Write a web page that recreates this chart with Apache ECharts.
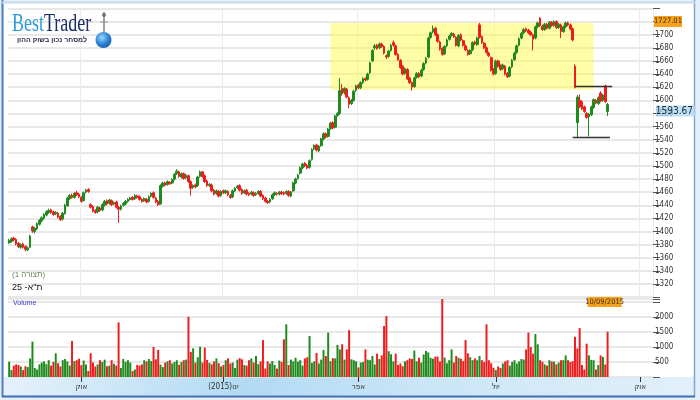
<!DOCTYPE html>
<html><head><meta charset="utf-8">
<script src="https://cdn.jsdelivr.net/npm/echarts@6/dist/echarts.min.js"></script>
<style>html,body{margin:0;padding:0;background:#fff}#c{width:700px;height:400px}</style>
</head><body><div id="c"></div>
<script>
// ---------- DATA ----------
const opens = [
1383,1385,1390,1388,1382,1376,1381,1377,1372,1376,
1407,1400,1404,1411,1416,1420,1425,1429,1433,1430,
1427,1428,1423,1419,1427,1439,1450,1455,1452,1459,
1457,1452,1447,1460,1464,1441,1438,1432,1430,1436,
1433,1440,1447,1443,1447,1442,1445,1437,1434,1440,
1442,1446,1449,1452,1450,1454,1453,1449,1447,1449,
1446,1454,1459,1451,1446,1442,1469,1474,1472,1475,
1474,1480,1488,1491,1483,1488,1482,1485,1476,1467,
1471,1470,1484,1491,1485,1477,1470,1471,1463,1458,
1461,1455,1462,1459,1461,1455,1453,1462,1467,1470,
1464,1459,1463,1458,1457,1459,1456,1458,1461,1455,
1451,1446,1445,1450,1456,1458,1457,1460,1459,1458,
1461,1454,1462,1474,1481,1489,1497,1504,1501,1498,
1510,1526,1532,1523,1531,1541,1549,1545,1557,1566,
1559,1577,1580,1618,1612,1617,1604,1595,1600,1615,
1623,1619,1627,1633,1632,1642,1660,1680,1684,1680,
1686,1682,1668,1667,1676,1688,1683,1670,1661,1652,
1641,1647,1634,1627,1621,1635,1641,1637,1647,1657,
1666,1696,1704,1710,1700,1689,1679,1671,1683,1693,
1699,1701,1696,1683,1700,1691,1683,1676,1671,1677,
1689,1685,1715,1697,1687,1680,1672,1665,1647,1641,
1660,1653,1648,1652,1641,1637,1651,1662,1673,1684,
1695,1703,1709,1707,1704,1700,1695,1712,1725,1713,
1708,1716,1710,1719,1714,1720,1711,1715,1705,1712,
1718,1715,1709,1652,1566,1600,1598,1590,1580,1575,
1578,1589,1600,1595,1611,1600,1622,1583];
const closes = [
1386,1389,1387,1381,1377,1380,1376,1373,1375,1393,
1401,1405,1412,1417,1421,1426,1430,1432,1429,1426,
1429,1422,1418,1428,1440,1451,1455,1452,1458,1456,
1453,1446,1459,1463,1461,1437,1431,1429,1437,1432,
1441,1446,1442,1448,1441,1444,1437,1434,1439,1443,
1446,1449,1451,1449,1455,1452,1449,1446,1450,1445,
1453,1458,1452,1445,1441,1470,1474,1471,1476,1473,
1479,1487,1492,1484,1488,1481,1486,1476,1466,1470,
1468,1483,1491,1484,1476,1470,1472,1462,1457,1462,
1454,1461,1459,1462,1456,1452,1462,1466,1469,1463,
1458,1462,1457,1456,1460,1455,1458,1461,1454,1450,
1446,1444,1449,1456,1459,1457,1460,1458,1457,1461,
1455,1460,1474,1480,1486,1497,1503,1500,1497,1508,
1525,1531,1524,1530,1541,1549,1544,1556,1565,1558,
1576,1580,1615,1610,1618,1605,1594,1600,1614,1622,
1619,1627,1633,1631,1640,1657,1676,1683,1679,1686,
1682,1672,1666,1675,1684,1684,1670,1662,1650,1640,
1648,1633,1627,1620,1634,1641,1636,1646,1656,1664,
1695,1703,1709,1700,1690,1678,1670,1682,1692,1698,
1702,1697,1684,1699,1692,1684,1677,1670,1676,1688,
1686,1695,1696,1688,1680,1673,1668,1646,1640,1660,
1652,1647,1654,1640,1636,1650,1661,1672,1683,1694,
1702,1708,1706,1703,1700,1693,1712,1718,1714,1708,
1716,1710,1719,1714,1720,1711,1716,1705,1712,1718,
1715,1709,1692,1620,1605,1590,1587,1583,1574,1579,
1590,1601,1596,1604,1599,1608,1598,1593.67];
const lows = [
1381,1383,1385,1379,1375,1374,1374,1370,1370,1375,
1398,1397,1402,1409,1414,1418,1423,1427,1427,1424,
1425,1420,1416,1417,1426,1438,1448,1450,1450,1454,
1451,1444,1446,1458,1459,1435,1429,1427,1428,1430,
1431,1438,1440,1441,1439,1440,1435,1413,1432,1438,
1440,1444,1447,1447,1448,1450,1447,1444,1445,1443,
1444,1452,1450,1443,1439,1441,1467,1469,1470,1471,
1472,1478,1486,1482,1481,1479,1480,1474,1455,1465,
1466,1468,1482,1482,1474,1468,1468,1460,1455,1456,
1452,1453,1457,1457,1454,1450,1451,1460,1465,1461,
1456,1457,1455,1454,1455,1453,1454,1456,1452,1448,
1444,1442,1443,1448,1454,1455,1455,1456,1455,1456,
1453,1452,1460,1472,1479,1487,1495,1498,1495,1496,
1508,1524,1522,1521,1529,1539,1542,1543,1555,1556,
1557,1575,1578,1607,1609,1603,1588,1593,1598,1613,
1617,1617,1625,1629,1630,1640,1658,1677,1677,1678,
1680,1670,1663,1665,1674,1682,1668,1660,1648,1638,
1639,1631,1625,1615,1619,1633,1634,1635,1645,1655,
1664,1694,1702,1698,1688,1676,1668,1669,1681,1691,
1697,1695,1682,1681,1690,1682,1675,1668,1669,1675,
1684,1683,1694,1686,1678,1671,1666,1644,1638,1639,
1650,1645,1646,1638,1634,1635,1649,1660,1671,1682,
1693,1701,1704,1701,1698,1676,1693,1710,1712,1706,
1706,1708,1708,1712,1712,1709,1709,1695,1703,1710,
1713,1707,1690,1618,1544,1588,1585,1581,1572,1545,
1576,1587,1594,1593,1597,1598,1596,1576];
const highs = [
1389,1391,1392,1390,1384,1382,1383,1379,1377,1395,
1409,1407,1414,1419,1423,1428,1432,1435,1435,1432,
1431,1430,1425,1430,1442,1453,1457,1458,1460,1462,
1459,1454,1461,1465,1466,1443,1440,1434,1439,1438,
1443,1448,1449,1450,1449,1446,1447,1439,1441,1445,
1448,1451,1453,1454,1457,1456,1455,1451,1452,1451,
1455,1460,1461,1453,1448,1472,1476,1476,1478,1477,
1481,1489,1495,1493,1490,1490,1488,1487,1478,1472,
1473,1485,1493,1492,1487,1479,1474,1473,1465,1464,
1463,1463,1464,1464,1463,1457,1464,1468,1471,1472,
1466,1464,1465,1460,1462,1461,1460,1463,1463,1457,
1453,1448,1451,1458,1461,1460,1462,1462,1461,1463,
1463,1462,1476,1482,1488,1499,1505,1506,1503,1510,
1527,1533,1534,1532,1543,1551,1551,1558,1567,1568,
1578,1582,1634,1625,1620,1619,1606,1602,1616,1624,
1625,1629,1635,1635,1642,1659,1678,1686,1686,1688,
1688,1684,1670,1677,1686,1691,1685,1672,1663,1654,
1650,1649,1636,1629,1636,1643,1643,1648,1658,1666,
1697,1705,1714,1712,1702,1691,1681,1684,1694,1700,
1704,1703,1698,1701,1702,1693,1685,1678,1678,1690,
1691,1697,1718,1699,1689,1682,1674,1667,1649,1662,
1662,1655,1656,1654,1643,1652,1663,1674,1685,1696,
1704,1710,1711,1709,1706,1702,1714,1720,1727.01,1715,
1718,1718,1721,1721,1722,1722,1718,1717,1714,1720,
1720,1717,1711,1655,1608,1609,1600,1592,1582,1581,
1592,1603,1602,1606,1614,1610,1624,1596];
const volumes = [
510,230,380,420,400,350,230,360,330,620,
1180,300,250,420,480,520,430,560,380,500,
790,460,350,560,600,520,380,1200,530,560,
610,400,550,420,200,790,480,350,420,560,
500,580,360,380,560,440,380,1820,300,600,
500,560,480,200,250,400,380,420,560,520,
600,530,1000,590,900,410,330,480,520,560,
450,500,560,410,500,560,580,2010,840,955,
480,660,1010,480,980,570,470,420,520,620,
460,350,400,560,620,450,480,300,580,630,
590,400,380,560,620,480,700,430,520,1230,
280,520,450,530,400,280,550,500,1255,1755,
400,580,520,640,510,560,380,620,660,1365,
470,520,800,450,580,900,700,1480,520,630,
620,1070,920,1090,580,920,1565,590,560,520,
320,480,500,920,580,560,700,420,780,600,
720,1700,2030,860,760,520,780,400,450,360,
520,560,620,600,880,520,640,480,750,870,
820,640,610,680,680,520,2680,650,460,560,
920,480,700,640,610,530,1230,790,660,560,
620,560,700,560,500,1755,560,460,310,230,
350,300,450,520,560,380,500,560,450,520,
600,580,920,1480,1000,780,1430,1090,560,510,
420,380,560,520,510,420,480,560,560,720,
560,500,530,1340,950,1630,400,250,1110,720,
570,560,250,400,720,670,420,1510];
const slotCount = 277;                       // trading-day slots on the time axis
const categories = Array.from({length: slotCount}, (_, i) => String(i));
const monthLabels = {31: 'אוק', 92: '(2015)ינו', 150: 'אפר', 209: 'יול', 271: 'אוק'};
const zoneStart = 138, zoneEnd = 251, zoneTop = 1718, zoneBottom = 1616;
const resistance = 1622, resistFrom = 243, resistTo = 259;
const support = 1544, supportFrom = 242, supportTo = 258;
const lastDate = '10/09/2015';
const legendLine1 = '(1 תצורה)';
const legendLine2 = '25 -ת"א';
const sloganText = 'למסחר נכון בשוק ההון';

// ---------- CHART ----------
const GREEN = '#1f8b1f', RED = '#ee1d1d';
const FONT = "'Liberation Sans Narrow','DejaVu Sans Condensed','Liberation Sans',sans-serif";
const candles = opens.map((o, i) => [o, closes[i], lows[i], highs[i]]);
const volData = volumes.map((v, i) => {
  const prev = i > 0 ? closes[i - 1] : opens[0];
  return {value: v, itemStyle: {color: closes[i] >= prev ? GREEN : RED}};
});
const isMonth = (i) => Object.prototype.hasOwnProperty.call(monthLabels, i);

const chart = echarts.init(document.getElementById('c'), null, {renderer: 'canvas'});
const option = {
  animation: false,
  backgroundColor: '#e6eff8',
  grid: [
    {left: 8, right: 47, top: 8.5, bottom: 102.9},
    {left: 8, right: 47, top: 299, bottom: 23}
  ],
  xAxis: [
    {type: 'category', gridIndex: 0, data: categories, boundaryGap: true,
     axisLine: {show: false}, axisTick: {show: false}, axisLabel: {show: false},
     splitLine: {show: true, interval: (i) => isMonth(i), lineStyle: {color: '#ececec', width: 1}}},
    {type: 'category', gridIndex: 1, data: categories, boundaryGap: true,
     axisLine: {show: false},
     axisTick: {show: true, alignWithLabel: true, interval: (i) => isMonth(i), length: 5, lineStyle: {color: '#333'}},
     axisLabel: {show: true, interval: (i) => isMonth(i), formatter: (v, i) => monthLabels[i] || '',
                 fontSize: 8, color: '#333', fontFamily: FONT, margin: 6},
     splitLine: {show: false}}
  ],
  yAxis: [
    {type: 'value', gridIndex: 0, position: 'right', min: 1300, max: 1740, interval: 20,
     axisLine: {show: false},
     axisTick: {show: true, length: 7, lineStyle: {color: '#555'}},
     axisLabel: {fontSize: 8, color: '#333', fontFamily: FONT, margin: 2,
                 formatter: (v) => (v < 1320 || v > 1720) ? '' : String(v)},
     splitLine: {show: true, lineStyle: {color: '#e0e0e0', width: 1.6}}},
    {type: 'value', gridIndex: 1, position: 'right', min: 0, max: 2600, interval: 500,
     axisLine: {show: false},
     axisTick: {show: true, length: 7, lineStyle: {color: '#555'}},
     axisLabel: {fontSize: 8, color: '#333', fontFamily: FONT, margin: 2,
                 formatter: (v) => (v >= 500 && v <= 2000) ? String(v) : ''},
     splitLine: {show: true, lineStyle: {color: '#e0e0e0', width: 1.6}}}
  ],
  series: [
    {type: 'candlestick', xAxisIndex: 0, yAxisIndex: 0, data: candles, barWidth: 2.2, z: 3,
     itemStyle: {color: GREEN, color0: RED, borderColor: GREEN, borderColor0: RED, borderWidth: 1}},
    {type: 'line', xAxisIndex: 0, yAxisIndex: 0, data: [], z: 6, silent: true,
     markArea: {silent: true, itemStyle: {color: 'rgba(255,250,40,0.42)'},
       data: [[{coord: [zoneStart, zoneTop]}, {coord: [zoneEnd, zoneBottom]}]]},
     markLine: {silent: true, symbol: ['none', 'none'], label: {show: false},
       lineStyle: {color: '#333', width: 1.4, type: 'solid'},
       data: [[{coord: [resistFrom, resistance]}, {coord: [resistTo, resistance]}],
              [{coord: [supportFrom, support]}, {coord: [supportTo, support]}]]}},
    {type: 'bar', xAxisIndex: 1, yAxisIndex: 1, data: volData, barCategoryGap: '15%', z: 3}
  ]
};
chart.setOption(option);

// tags positioned through the chart's own scales
const maxHigh = Math.max(...highs);
const lastIdx = closes.length - 1;
const lastClose = closes[lastIdx];
const yMax = chart.convertToPixel({yAxisIndex: 0}, maxHigh);
const yLast = chart.convertToPixel({yAxisIndex: 0}, lastClose);
const xLast = chart.convertToPixel({xAxisIndex: 1}, lastIdx);

chart.setOption({graphic: [
  // frame
  {type: 'rect', z: -20, shape: {x: 4, y: 3, width: 690, height: 375}, style: {fill: '#ffffff'}},
  {type: 'rect', z: -20, shape: {x: 4, y: 377, width: 690, height: 18},
   style: {fill: new echarts.graphic.LinearGradient(0, 0, 1, 0, [
     {offset: 0, color: '#e4f1fb'}, {offset: 0.35, color: '#b2daf3'},
     {offset: 0.6, color: '#c9e5f7'}, {offset: 1, color: '#e2f0fa'}])}},
  {type: 'line', z: 50, shape: {x1: 2.5, y1: 0, x2: 2.5, y2: 397}, style: {stroke: '#4f7fc0', lineWidth: 2}},
  {type: 'line', z: 50, shape: {x1: 694.5, y1: 0, x2: 694.5, y2: 397}, style: {stroke: '#7ea6d8', lineWidth: 1.5}},
  {type: 'line', z: 50, shape: {x1: 2, y1: 396.5, x2: 695, y2: 396.5}, style: {stroke: '#3d6db3', lineWidth: 2}},
  {type: 'line', z: 50, shape: {x1: 2, y1: 2.5, x2: 695, y2: 2.5}, style: {stroke: '#c5d8ee', lineWidth: 2}},
  // logo
  {type: 'group', x: 12, y: 24.5, scaleX: 0.72, z: 60, children: [
    {type: 'text', style: {text: '{b|Best}{t|Trader}', x: 0, y: 0, verticalAlign: 'middle',
      rich: {b: {fill: '#2e9bdb', fontSize: 25, fontFamily: "'Liberation Serif',serif"},
             t: {fill: '#1b2c6c', fontSize: 25, fontFamily: "'Liberation Serif',serif"}}}}]},
  {type: 'text', z: 60, style: {text: sloganText, x: 52, y: 40.5, align: 'center', verticalAlign: 'middle',
    fill: '#1d2742', font: "bold 7px 'Liberation Sans',sans-serif"}},
  {type: 'line', z: 60, shape: {x1: 104, y1: 12, x2: 104, y2: 32}, style: {stroke: '#8a8a8a', lineWidth: 1.6}},
  {type: 'circle', z: 60, shape: {cx: 104, cy: 15, r: 2}, style: {fill: '#777'}},
  {type: 'line', z: 60, shape: {x1: 100, y1: 22, x2: 108, y2: 22}, style: {stroke: '#999', lineWidth: 1}},
  {type: 'circle', z: 60, shape: {cx: 103.5, cy: 40, r: 8},
   style: {fill: new echarts.graphic.RadialGradient(0.4, 0.35, 0.8, [
     {offset: 0, color: '#9fd4fa'}, {offset: 0.5, color: '#2f86d6'}, {offset: 1, color: '#124d9a'}])}},
  // legend texts
  {type: 'text', z: 60, style: {text: legendLine1, x: 12, y: 275, verticalAlign: 'middle',
    fill: '#6b8a5f', font: "8px 'Liberation Sans',sans-serif"}},
  {type: 'text', z: 60, style: {text: legendLine2, x: 12, y: 288, verticalAlign: 'middle',
    fill: '#111', font: "9px 'Liberation Sans',sans-serif"}},
  {type: 'text', z: 60, style: {text: 'Volume', x: 13, y: 303.5, verticalAlign: 'middle',
    fill: '#3a3ad0', font: "7px 'Liberation Sans',sans-serif"}},
  // value tags
  {type: 'rect', z: 70, shape: {x: 654, y: yMax - 1, width: 28, height: 11}, style: {fill: '#f6a21c'}},
  {type: 'text', z: 71, style: {text: maxHigh.toFixed(2), x: 668, y: yMax + 4.5, align: 'center', verticalAlign: 'middle',
    fill: '#3a2a10', font: "7.5px " + FONT}},
  {type: 'rect', z: 70, shape: {x: 656, y: yLast + 1, width: 39, height: 11}, style: {fill: 'rgba(170,215,242,0.75)'}},
  {type: 'text', z: 71, style: {text: lastClose.toFixed(2), x: 693, y: yLast + 6.5, align: 'right', verticalAlign: 'middle',
    fill: '#1a2a3a', font: "10px " + FONT}},
  {type: 'rect', z: 70, shape: {x: xLast - 20, y: 297, width: 34, height: 10}, style: {fill: '#f6a21c'}},
  {type: 'text', z: 71, style: {text: lastDate, x: xLast - 3, y: 302, align: 'center', verticalAlign: 'middle',
    fill: '#3a2a10', font: "7.5px " + FONT}}
]});
</script>
</body></html>
